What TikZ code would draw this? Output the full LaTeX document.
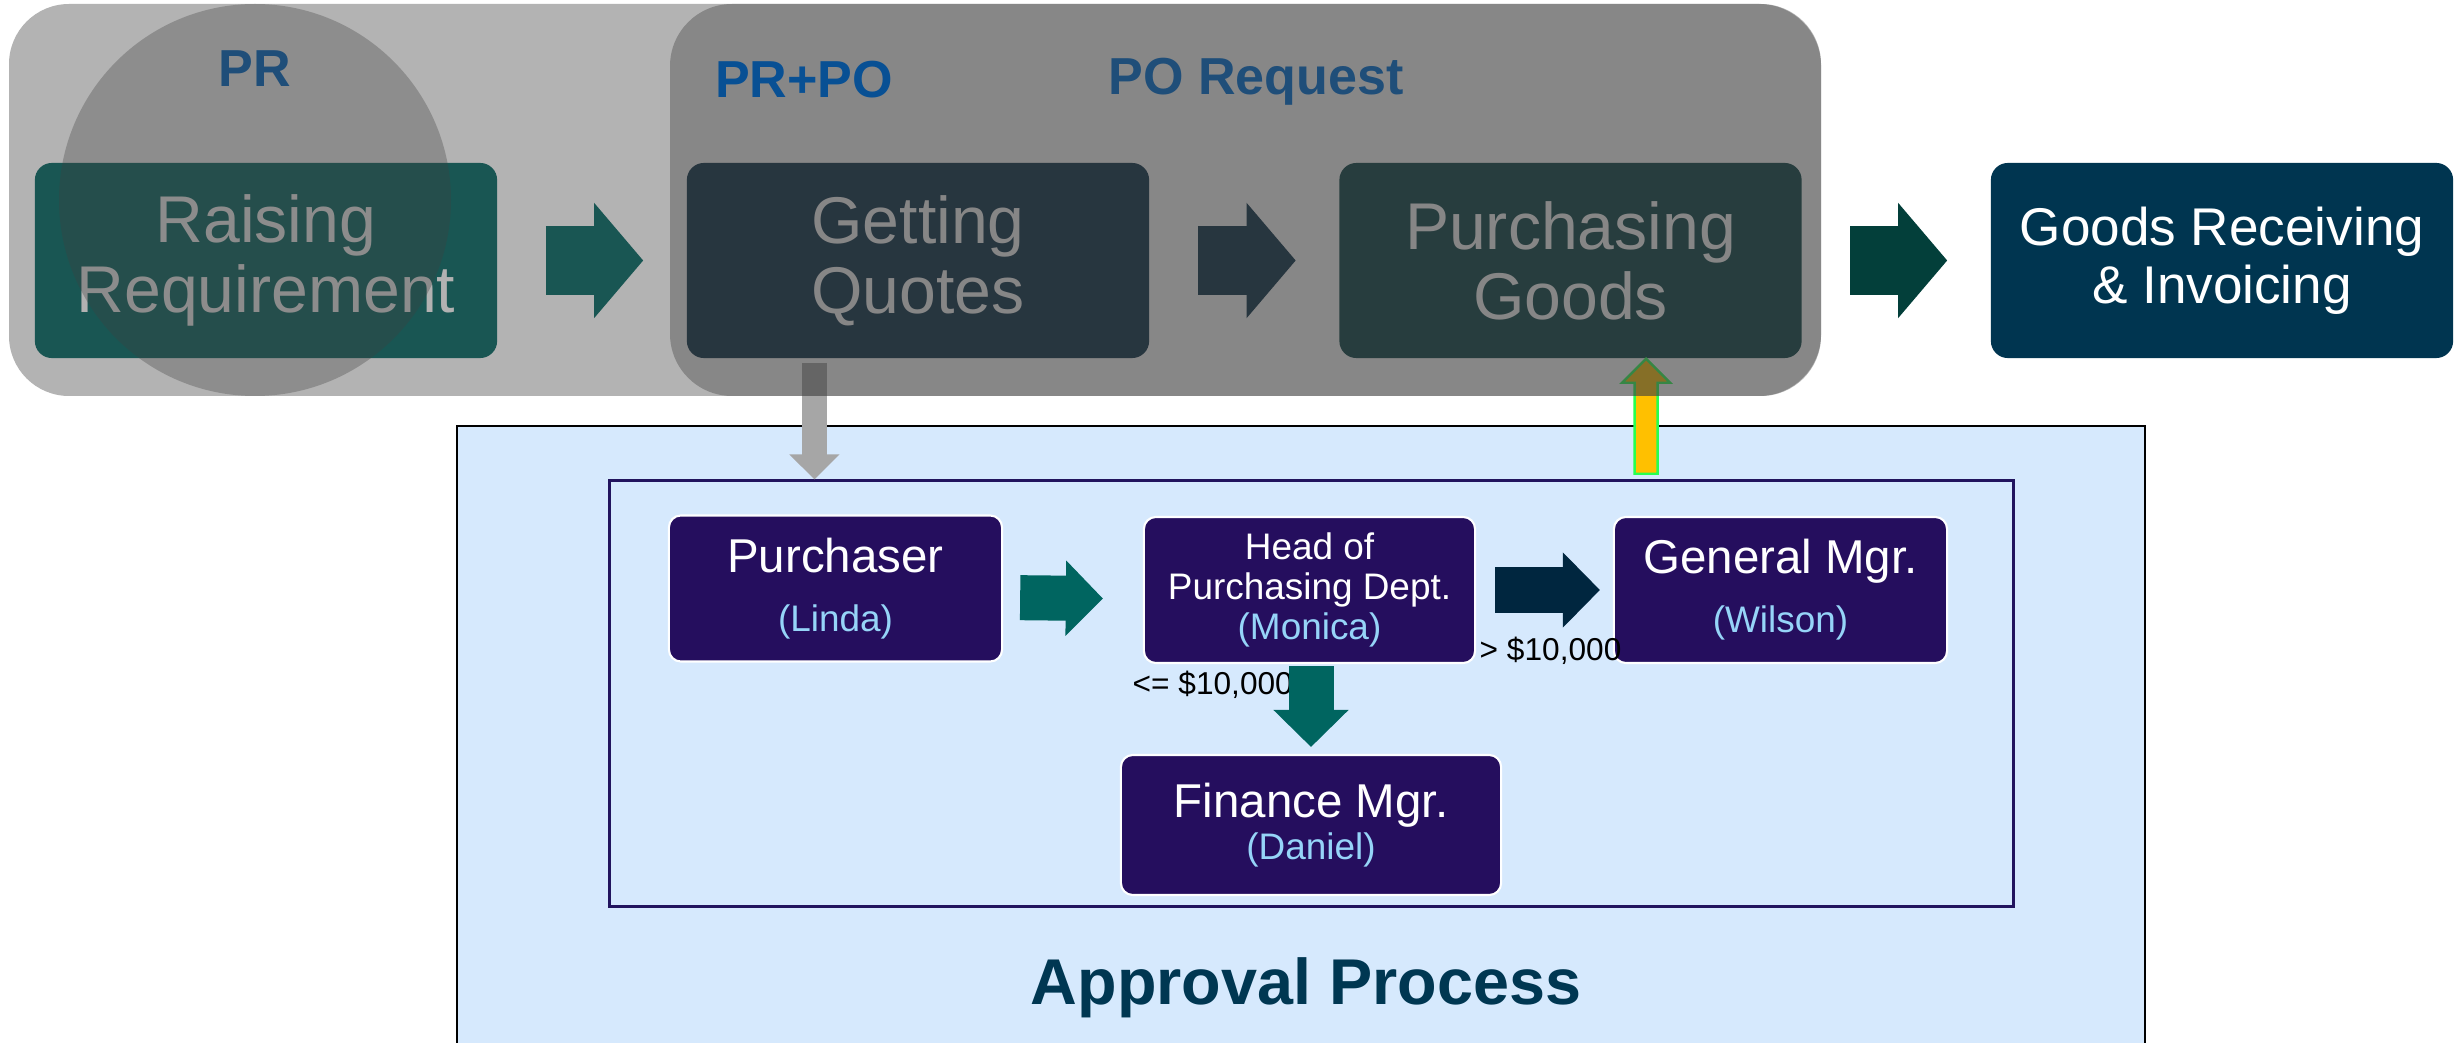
\documentclass[tikz,border=0pt]{standalone}
\usepackage{fontspec}
\setmainfont{Liberation Sans}
\usetikzlibrary{arrows.meta}

\definecolor{tealbox}{RGB}{0,101,96}
\definecolor{navybox}{RGB}{0,38,63}
\definecolor{buybox}{RGB}{0,58,61}
\definecolor{goodsbox}{RGB}{0,53,80}
\definecolor{goodsarrow}{RGB}{3,63,58}
\definecolor{approvalbg}{RGB}{214,233,253}
\definecolor{rolefill}{RGB}{37,14,94}
\definecolor{innerline}{RGB}{34,20,94}
\definecolor{namecol}{RGB}{150,212,248}
\definecolor{prblue}{RGB}{31,78,121}
\definecolor{prpoblue}{RGB}{8,80,148}
\definecolor{titlecol}{RGB}{0,55,82}
\definecolor{askgray}{RGB}{166,166,166}
\definecolor{okyellow}{RGB}{255,192,0}
\definecolor{okgreen}{RGB}{40,255,80}

\tikzset{
  stage/.style={fill=#1, rounded corners=0.17cm, minimum width=4.62cm, minimum height=1.95cm,
    inner sep=0pt, align=center, text=white, font=\fontsize{18.8}{19.9}\selectfont},
  role/.style={fill=rolefill, draw=white, line width=0.6pt, rounded corners=0.12cm,
    minimum width=3.33cm, minimum height=1.46cm, inner sep=0pt, align=center, text=white,
    font=\fontsize{13.5}{16.8}\selectfont},
  flowarrow/.style={draw=#1, line width=0.69cm, -{Triangle[length=0.49cm, width=1.15cm, line width=0.4pt]},
    shorten <=0.48cm, shorten >=0.43cm},
  steparrow/.style={draw=#1, line width=0.45cm, -{Triangle[length=0.37cm, width=0.75cm, line width=0.4pt]}},
  graycover/.style={fill=black!75, fill opacity=#1},
  phase/.style={font=\bfseries\fontsize{14.8}{16}\selectfont, anchor=base},
  limitlabel/.style={font=\fontsize{9}{11}\selectfont, anchor=base west, inner sep=0pt}
}
\newcommand{\who}[1]{{\fontsize{10.5}{12}\selectfont\color{namecol}#1}}

\begin{document}
\begin{tikzpicture}[x=0.01cm, y=-0.01cm]
    \useasboundingbox (0,0) rectangle (2463,1043);

    % Approval area
    \draw[fill=approvalbg, line width=0.75pt] (457,426) rectangle (2145,1070);
    \node[draw=innerline, line width=0.85pt, minimum width=14.03cm, minimum height=4.25cm, inner sep=0pt]
        (inner) at (1311.5,693.5) {};

    \node[role] (purch) at (835.5,588.5) {Purchaser\\\who{(Linda)}};
    \node[role, minimum width=3.31cm, font=\fontsize{10.5}{11.3}\selectfont]
        (head) at (1309.5,590) {Head of\\Purchasing Dept.\\\who{(Monica)}};
    \node[role] (gm) at (1780.5,590) {General Mgr.\\\who{(Wilson)}};
    \node[role, minimum width=3.8cm, minimum height=1.4cm] (fin) at (1311,825) {Finance Mgr.\\[-4.8pt]\who{(Daniel)}};

    \node[limitlabel] (low) at (1132,695) {<= \$10,000};
    \draw[steparrow=tealbox, shorten <=0.17cm, shorten >=0.40cm]
        ([yshift=-0.09cm]purch.east) -- ([yshift=-0.09cm]head.west);
    \draw[steparrow=navybox, shorten <=0.19cm, shorten >=0.13cm] (head.east) -- (gm.west);
    \draw[steparrow=tealbox, shorten <=0.02cm, shorten >=0.07cm] (fin.north |- head.south) -- (fin.north);
    \node[limitlabel] (high) at (1479,660) {> \$10,000};

    \node[font=\bfseries\fontsize{18.4}{20}\selectfont, text=titlecol, anchor=base]
        (title) at (1306,1004) {Approval Process};

    % Stages
    \node[stage=tealbox] (raise) at (266,260.5) {Raising\\Requirement};
    \node[stage=navybox] (quotes) at (918,260.5) {Getting\\Quotes};
    \node[stage=buybox] (buy) at (1570.5,260.5) {Purchasing\\Goods};
    \node[stage=goodsbox, font=\fontsize{15.1}{16.5}\selectfont] (goods) at (2222,260.5) {Goods Receiving\\\& Invoicing};

    \draw[flowarrow=tealbox] (raise.east) -- (quotes.west);
    \draw[flowarrow=navybox] (quotes.east) -- (buy.west);
    \draw[flowarrow=goodsarrow] (buy.east) -- (goods.west);

    % Request goes down, approval comes back up
    \draw[draw=askgray, line width=0.25cm, -{Triangle[length=0.25cm, width=0.5cm, line width=0.4pt]}]
        ([xshift=-1.035cm, yshift=-0.04cm]quotes.south) -- ([xshift=-1.035cm]quotes.south |- inner.north);
    \coordinate (ytip) at ([xshift=0.755cm]buy.south);
    \draw[fill=okyellow, draw=okgreen, line width=0.7pt]
        (ytip) -- ++(24,24) -- ++(-12.5,0) -- ++(0,91) -- ++(-23,0) -- ++(0,-91) -- ++(-12.5,0) -- cycle;

    % Gray covers
    \fill[graycover=0.4, rounded corners=0.6cm] (9,4) rectangle (1821,396);
    \fill[graycover=0.38, rounded corners=0.62cm] (670,4) rectangle (1821,396);
    \fill[graycover=0.33] (255,200) circle (196);

    \node[phase, text=prblue] (pr) at (255,87) {PR};
    \node[phase, text=prpoblue] (prpo) at (804,98) {PR+PO};
    \node[phase, text=prblue] (poreq) at (1256,95) {PO Request};
\end{tikzpicture}
\end{document}
